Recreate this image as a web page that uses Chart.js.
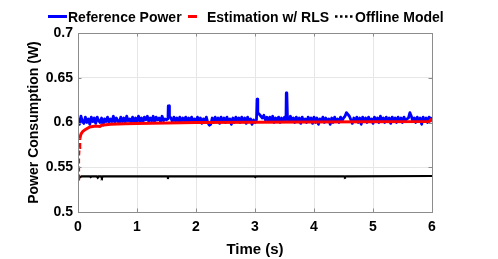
<!DOCTYPE html>
<html><head><meta charset="utf-8">
<script src="https://cdn.jsdelivr.net/npm/chart.js@4/dist/chart.umd.min.js"></script>
<style>html,body{margin:0;padding:0;background:#fff;}</style>
</head><body>
<canvas id="c" width="498" height="259"></canvas>
<script>
// ---- data ----
const xTicks = [0, 1, 2, 3, 4, 5, 6];
const yTicks = [0.5, 0.55, 0.6, 0.65, 0.7];
const seriesNames = ['Reference Power', 'Estimation w/ RLS', 'Offline Model'];

// reference power sampled every 0.025 s from t = 0 to 6 (one row = 0.25 s)
const refStep = 0.025;
const refPower = [
  0.605,0.598,0.607,0.601,0.599,0.606,0.600,0.604,0.598,0.606,
  0.601,0.605,0.599,0.606,0.602,0.600,0.605,0.597,0.604,0.601,
  0.606,0.600,0.604,0.601,0.607,0.600,0.605,0.602,0.599,0.606,
  0.601,0.605,0.600,0.607,0.602,0.604,0.600,0.606,0.601,0.605,
  0.600,0.607,0.602,0.605,0.600,0.606,0.603,0.607,0.601,0.605,
  0.602,0.607,0.600,0.606,0.603,0.605,0.601,0.607,0.602,0.604,
  0.603,0.604,0.607,0.605,0.601,0.606,0.602,0.605,0.600,0.606,
  0.601,0.605,0.602,0.606,0.600,0.605,0.601,0.606,0.602,0.604,
  0.600,0.606,0.601,0.605,0.599,0.604,0.601,0.606,0.600,0.597,
  0.598,0.605,0.600,0.606,0.601,0.605,0.599,0.606,0.601,0.605,
  0.600,0.606,0.601,0.604,0.598,0.605,0.600,0.606,0.602,0.605,
  0.600,0.606,0.601,0.605,0.599,0.606,0.601,0.604,0.598,0.603,
  0.600,0.603,0.611,0.609,0.607,0.605,0.608,0.603,0.606,0.601,
  0.606,0.601,0.607,0.600,0.605,0.602,0.606,0.600,0.605,0.601,
  0.606,0.603,0.606,0.601,0.607,0.602,0.605,0.600,0.606,0.601,
  0.605,0.599,0.606,0.601,0.604,0.600,0.606,0.602,0.605,0.599,
  0.606,0.600,0.605,0.598,0.604,0.601,0.606,0.600,0.605,0.601,
  0.604,0.598,0.605,0.600,0.606,0.601,0.604,0.600,0.606,0.602,
  0.605,0.607,0.611,0.609,0.607,0.603,0.599,0.605,0.601,0.606,
  0.600,0.605,0.598,0.606,0.601,0.605,0.600,0.606,0.602,0.604,
  0.599,0.606,0.601,0.605,0.600,0.607,0.602,0.605,0.600,0.606,
  0.601,0.605,0.599,0.606,0.602,0.605,0.600,0.606,0.601,0.605,
  0.600,0.606,0.602,0.604,0.605,0.611,0.607,0.601,0.605,0.600,
  0.606,0.601,0.605,0.598,0.606,0.601,0.605,0.600,0.606,0.602,
  0.606
];
// extra samples at the spikes
const refSpikeTime  = [1.530, 1.545, 3.035, 3.045, 3.530, 3.540];
const refSpikePower = [0.6185, 0.6185, 0.626, 0.626, 0.633, 0.632];

const rlsTime  = [0, 0.005, 0.01, 0.015, 0.02, 0.03, 0.05, 0.08, 0.12, 0.2, 0.3, 0.37, 0.4, 0.55, 0.8, 1.0, 1.5, 2.0, 3.0, 4.0, 5.0, 5.95, 6.0];
const rlsPower = [0.537, 0.545, 0.553, 0.562, 0.572, 0.582, 0.587, 0.590, 0.592, 0.595, 0.596, 0.5955, 0.597, 0.598, 0.5985, 0.599, 0.5995, 0.600, 0.6003, 0.6005, 0.6007, 0.601, 0.604];

const offTime  = [0, 0.03, 0.06, 0.2, 0.215, 0.23, 0.32, 0.335, 0.35, 0.39, 0.405, 0.42, 1.51, 1.525, 1.54, 2.99, 3.005, 3.02, 4.51, 4.525, 4.54, 6.0];
const offPower = [0.536, 0.5388, 0.5397, 0.5397, 0.5389, 0.5397, 0.5397, 0.5384, 0.5397, 0.5397, 0.5384, 0.5397, 0.5397, 0.5389, 0.5397, 0.5397, 0.5389, 0.5397, 0.5397, 0.5390, 0.5398, 0.5402];

// ---- build point tables ----
const refPts = refPower.map((v, i) => ({x: +(i * refStep).toFixed(3), y: v}))
  .concat(refSpikeTime.map((t, i) => ({x: t, y: refSpikePower[i]})))
  .sort((a, b) => a.x - b.x);
const rlsPts = rlsTime.map((t, i) => ({x: t, y: rlsPower[i]}));
const offPts = offTime.map((t, i) => ({x: t, y: offPower[i]}));

const FONT = '"Liberation Sans", Arial, Helvetica, sans-serif';
const AXIS_COLOR = '#8c8c8c';

const boxPlugin = {
  id: 'boxPlugin',
  afterDraw(chart) {
    const {ctx, chartArea: a, scales: {x, y}} = chart;
    ctx.save();
    ctx.strokeStyle = AXIS_COLOR;
    ctx.lineWidth = 1;
    ctx.strokeRect(Math.round(a.left) + 0.5, Math.round(a.top) + 0.5, Math.round(a.right - a.left), Math.round(a.bottom - a.top));
    const tl = 3.5;
    ctx.beginPath();
    xTicks.forEach(v => {
      const px = Math.round(x.getPixelForValue(v)) + 0.5;
      ctx.moveTo(px, a.top); ctx.lineTo(px, a.top + tl);
      ctx.moveTo(px, a.bottom); ctx.lineTo(px, a.bottom - tl);
    });
    yTicks.forEach(v => {
      const py = Math.round(y.getPixelForValue(v)) + 0.5;
      ctx.moveTo(a.left, py); ctx.lineTo(a.left + tl, py);
      ctx.moveTo(a.right, py); ctx.lineTo(a.right - tl, py);
    });
    ctx.stroke();

    // legend
    const ds = chart.data.datasets;
    ctx.font = 'bold 14px ' + FONT;
    ctx.fillStyle = '#000';
    ctx.textBaseline = 'alphabetic';
    const ly = 16.5, by = 21.7;
    ctx.lineCap = 'butt';
    ctx.strokeStyle = ds[0].borderColor; ctx.lineWidth = 3; ctx.setLineDash([]);
    ctx.beginPath(); ctx.moveTo(48, ly); ctx.lineTo(67, ly); ctx.stroke();
    ctx.fillText(seriesNames[0], 68, by);
    ctx.strokeStyle = ds[1].borderColor; ctx.lineWidth = 3;
    ctx.beginPath(); ctx.moveTo(188, ly); ctx.lineTo(197, ly); ctx.stroke();
    ctx.fillText(seriesNames[1], 207, by);
    ctx.strokeStyle = ds[2].borderColor; ctx.lineWidth = 2.5; ctx.setLineDash([2.5, 2.5]);
    ctx.beginPath(); ctx.moveTo(335, ly); ctx.lineTo(354, ly); ctx.stroke();
    ctx.setLineDash([]);
    ctx.fillText(seriesNames[2], 355, by);
    ctx.restore();
  }
};

new Chart(document.getElementById('c'), {
  type: 'line',
  data: {
    datasets: [
      {label: seriesNames[0], data: refPts, borderColor: '#0000ff', borderWidth: 2.8, pointRadius: 0, order: 3, borderJoinStyle: 'round'},
      {label: seriesNames[1], data: rlsPts, borderColor: '#ff0000', borderWidth: 3, pointRadius: 0, order: 1,
        segment: {borderDash: c => c.p0.parsed.x < 0.025 ? [5, 3] : undefined}},
      {label: seriesNames[2], data: offPts, borderColor: '#000000', borderWidth: 2.2, pointRadius: 0, order: 2}
    ]
  },
  options: {
    responsive: false,
    animation: false,
    devicePixelRatio: 1,
    layout: {padding: {top: 33, right: 66, left: 0, bottom: 0}},
    plugins: {legend: {display: false}, tooltip: {enabled: false}},
    scales: {
      x: {
        type: 'linear', min: 0, max: 6,
        afterBuildTicks: s => { s.ticks = xTicks.map(v => ({value: v})); },
        afterFit: s => { s.height = 47; },
        grid: {color: '#e6e6e6', drawTicks: false},
        border: {display: false},
        ticks: {padding: 7, color: '#000', font: {family: FONT, size: 14, weight: 'bold'}, maxRotation: 0,
          callback: v => String(v)},
        title: {display: true, text: 'Time (s)', color: '#000', padding: {top: 10, bottom: 0}, font: {family: FONT, size: 15, weight: 'bold'}}
      },
      y: {
        type: 'linear', min: 0.5, max: 0.7,
        afterBuildTicks: s => { s.ticks = yTicks.map(v => ({value: v})); },
        afterFit: s => { s.width = 78; },
        grid: {color: '#e6e6e6', drawTicks: false},
        border: {display: false},
        ticks: {padding: 5, color: '#000', font: {family: FONT, size: 14, weight: 'bold'},
          callback: v => String(Number(v.toFixed(2)))},
        title: {display: true, text: 'Power Consumption (W)', color: '#000', padding: {top: 26, bottom: 0}, font: {family: FONT, size: 14, weight: 'bold'}}
      }
    }
  },
  plugins: [boxPlugin]
});
</script>
</body></html>
